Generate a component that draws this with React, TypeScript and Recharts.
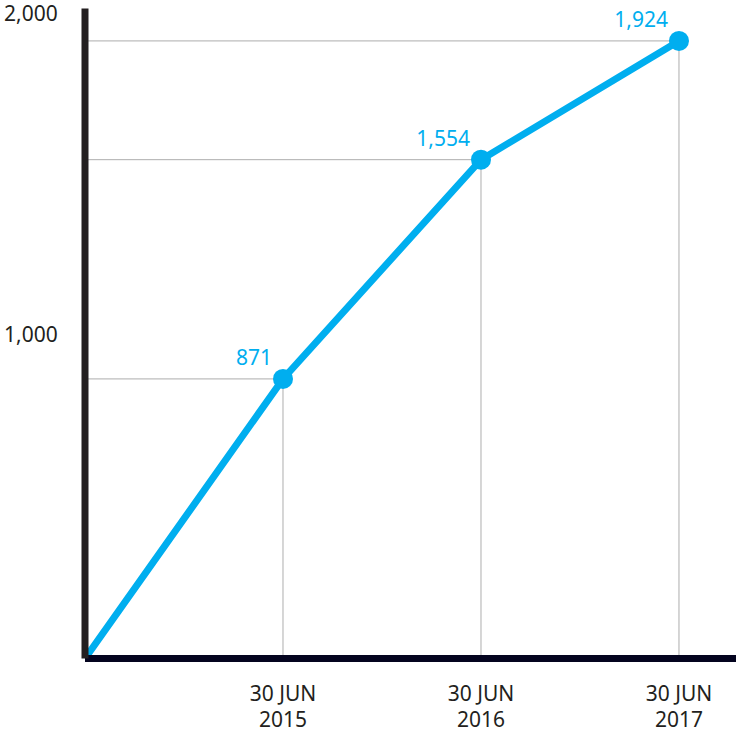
import React from "react";
import { LineChart, Line, XAxis, YAxis, ReferenceLine, LabelList } from "recharts";

// Cumulative total at each reporting date (first point is the zero origin)
const positions = [0, 1, 2, 3];
const totals = [0, 871, 1554, 1924];
const tickDates = ["", "30 JUN", "30 JUN", "30 JUN"];
const tickYears = ["", "2015", "2016", "2017"];
const yTicks = [1000, 2000];

const BLUE = "#00aeef";
const FONT = "'Noto Sans', 'Open Sans', sans-serif";

const data = positions.map((p, i) => ({ p, total: totals[i] }));

const fmt = (n: number) => n.toLocaleString("en-US");

const YTick = (props: any) => {
  const { y, payload } = props;
  return (
    <text x={4} y={y + 4} textAnchor="start" fontFamily={FONT} fontSize={21} fill="#231f20">
      {fmt(payload.value)}
    </text>
  );
};

const XTick = (props: any) => {
  const { x, y, payload } = props;
  const idx = positions.indexOf(payload.value);
  return (
    <text x={x} textAnchor="middle" fontFamily={FONT} fontSize={21} fill="#231f20">
      <tspan x={x} y={y + 34}>{tickDates[idx]}</tspan>
      <tspan x={x} y={y + 60}>{tickYears[idx]}</tspan>
    </text>
  );
};

const Dot = (props: any) => {
  const { cx, cy, index } = props;
  if (index === 0) return <g key={`d${index}`} />;
  return <circle key={`d${index}`} cx={cx} cy={cy} r={10} fill={BLUE} />;
};

const ValueLabel = (props: any) => {
  const { x, y, value, index } = props;
  if (index === 0) return null;
  return (
    <text x={x - 11} y={y - 14} textAnchor="end" fontFamily={FONT} fontSize={21} fill={BLUE}>
      {fmt(value)}
    </text>
  );
};

export default function App() {
  return (
    <div style={{ position: "absolute", left: 0, top: 0, background: "#fff" }}>
      <LineChart
        width={736}
        height={729}
        data={data}
        margin={{ top: 8.5, right: 0, bottom: 0, left: 0 }}
      >
        <XAxis
          dataKey="p"
          type="number"
          domain={[0, 3.288]}
          ticks={[1, 2, 3]}
          tick={<XTick />}
          tickLine={false}
          axisLine={{ stroke: "#04041f", strokeWidth: 7 }}
          height={70.5}
          interval={0}
        />
        <YAxis
          type="number"
          domain={[0, 2025]}
          ticks={yTicks}
          tick={<YTick />}
          tickLine={false}
          axisLine={{ stroke: "#231f20", strokeWidth: 7 }}
          width={85}
          allowDataOverflow
        />
        {data.slice(1).map((d) => (
          <ReferenceLine
            key={`h${d.p}`}
            segment={[{ x: 0, y: d.total }, { x: d.p, y: d.total }]}
            stroke="#adadad"
            strokeWidth={1}
          />
        ))}
        {data.slice(1).map((d) => (
          <ReferenceLine
            key={`v${d.p}`}
            segment={[{ x: d.p, y: 0 }, { x: d.p, y: d.total }]}
            stroke="#adadad"
            strokeWidth={1}
          />
        ))}
        <Line
          dataKey="total"
          stroke={BLUE}
          strokeWidth={7}
          dot={<Dot />}
          activeDot={false}
          isAnimationActive={false}
        >
          <LabelList dataKey="total" content={<ValueLabel />} />
        </Line>
      </LineChart>
    </div>
  );
}
